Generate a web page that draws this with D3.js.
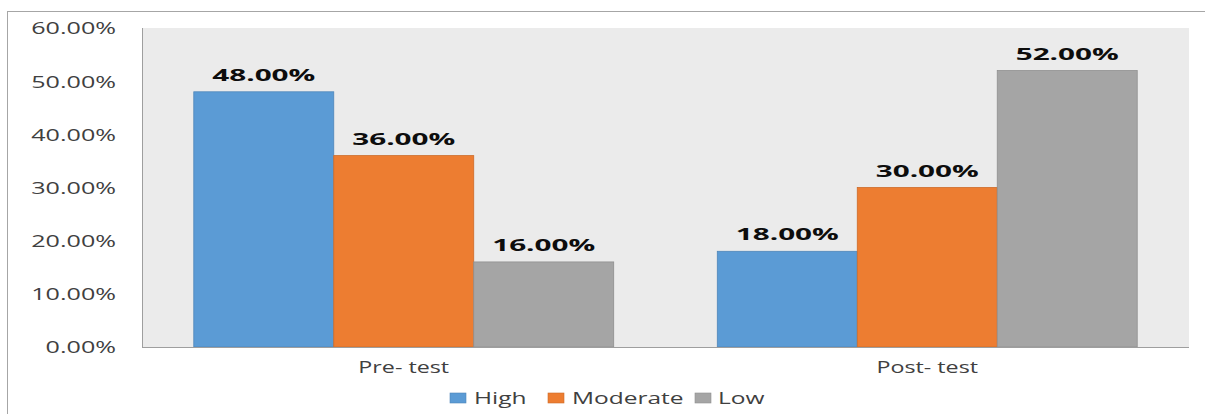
<!DOCTYPE html>
<html>
<head>
<meta charset="utf-8">
<script src="https://cdn.jsdelivr.net/npm/d3@7"></script>
<style>
  html, body { margin: 0; padding: 0; background: #ffffff; }
  svg { display: block; }
  text { font-family: "Open Sans", "Noto Sans", sans-serif; fill: #262626; }
</style>
</head>
<body>
<svg id="chart" width="1205" height="414"></svg>
<script>
// Knowledge level distribution before and after the test
const categories = ["Pre- test", "Post- test"];
const seriesNames = ["High", "Moderate", "Low"];
const seriesColors = ["#5b9bd5", "#ed7d31", "#a5a5a5"];
const high = [48, 18];
const moderate = [36, 30];
const low = [16, 52];
const yTicks = [0, 10, 20, 30, 40, 50, 60];

const seriesValues = [high, moderate, low];

const svg = d3.select("#chart");
const W = 1205, H = 414;

// Outer chart frame
svg.append("rect")
  .attr("x", 7.5).attr("y", 11.5)
  .attr("width", W).attr("height", H)
  .attr("fill", "#ffffff")
  .attr("stroke", "#a6a6a6").attr("stroke-width", 1);

const plot = { left: 142, right: 1189, top: 28, bottom: 347 };

const x0 = d3.scaleBand()
  .domain(categories)
  .range([plot.left, plot.right])
  .paddingInner(0).paddingOuter(0);

const x1 = d3.scaleBand()
  .domain(seriesNames)
  .range([0, x0.bandwidth()])
  .paddingInner(0)
  .paddingOuter(0.37);

const y = d3.scaleLinear().domain([0, 60]).range([plot.bottom, plot.top]);

// Horizontal stretch for text glyphs (wide lettering)
function stretch(sel, sx) {
  sel.each(function () {
    const t = d3.select(this);
    const x = +t.attr("x") || 0;
    const yy = +t.attr("y") || 0;
    t.attr("x", null).attr("y", null)
      .attr("transform", `translate(${x},${yy}) scale(${sx},1)`);
  });
}

// Plot background
svg.append("rect")
  .attr("x", plot.left).attr("y", plot.top)
  .attr("width", plot.right - plot.left)
  .attr("height", plot.bottom - plot.top)
  .attr("fill", "#ebebeb");

// Bars
const groups = svg.append("g").selectAll("g")
  .data(categories)
  .join("g")
  .attr("transform", d => `translate(${x0(d)},0)`);

groups.selectAll("rect")
  .data((c, ci) => seriesNames.map((s, si) => ({ s, si, v: seriesValues[si][ci] })))
  .join("rect")
  .attr("x", d => x1(d.s))
  .attr("y", d => y(d.v))
  .attr("width", x1.bandwidth())
  .attr("height", d => y(0) - y(d.v))
  .attr("fill", (d) => seriesColors[d.si])
  .attr("stroke", d => d3.color(seriesColors[d.si]).darker(0.4))
  .attr("stroke-width", 0.8);

// Value labels
groups.selectAll("text.val")
  .data((c, ci) => seriesNames.map((s, si) => ({ s, si, v: seriesValues[si][ci] })))
  .join("text")
  .attr("class", "val")
  .attr("x", d => x1(d.s) + x1.bandwidth() / 2)
  .attr("y", d => y(d.v) - 11)
  .attr("text-anchor", "middle")
  .style("font-size", "16.5px")
  .style("font-weight", "700")
  .style("fill", "#0d0d0d")
  .text(d => d3.format(".2f")(d.v) + "%")
  .call(stretch, 1.8);

// Axis lines
const axisG = svg.append("g");
axisG.append("line")
  .attr("x1", plot.left + 0.5).attr("x2", plot.left + 0.5)
  .attr("y1", plot.top).attr("y2", plot.bottom)
  .attr("stroke", "#9e9e9e");
axisG.append("line")
  .attr("x1", plot.left).attr("x2", plot.right)
  .attr("y1", plot.bottom + 0.5).attr("y2", plot.bottom + 0.5)
  .attr("stroke", "#9e9e9e");

// Y tick labels
const yAxis = d3.axisLeft(y).tickValues(yTicks).tickSize(0)
  .tickFormat(d => d3.format(".2f")(d) + "%");
const yg = svg.append("g").attr("transform", `translate(${plot.left},0)`).call(yAxis);
yg.select(".domain").remove();
yg.selectAll("text")
  .attr("x", 116 - plot.left)
  .attr("dy", null)
  .attr("dominant-baseline", "central")
  .attr("text-anchor", "end")
  .style("font-size", "15.5px")
  .style("font-family", "'Open Sans', sans-serif")
  .style("fill", "#404040")
  .each(function () {
    const t = d3.select(this);
    const tx = +t.attr("x");
    const ty = +t.attr("y") || 0;
    t.attr("x", null).attr("y", null).attr("transform", `translate(${tx},${ty}) scale(1.62,1)`);
  });

// Category labels
svg.append("g").selectAll("text")
  .data(categories)
  .join("text")
  .attr("x", d => x0(d) + x0.bandwidth() / 2)
  .attr("y", 373)
  .attr("text-anchor", "middle")
  .style("font-size", "15.5px")
  .style("fill", "#404040")
  .text(d => d)
  .call(stretch, 1.5);

// Legend
const legendItems = [
  { name: "High", sq: 450, tx: 474 },
  { name: "Moderate", sq: 548, tx: 572 },
  { name: "Low", sq: 695, tx: 718 }
];
const lg = svg.append("g");
lg.selectAll("rect")
  .data(seriesNames)
  .join("rect")
  .attr("x", (d, i) => legendItems[i].sq)
  .attr("y", 393)
  .attr("width", 16).attr("height", 10)
  .attr("fill", (d, i) => seriesColors[i])
  .attr("stroke", (d, i) => d3.color(seriesColors[i]).darker(0.4))
  .attr("stroke-width", 0.6);
lg.selectAll("text")
  .data(seriesNames)
  .join("text")
  .attr("x", (d, i) => legendItems[i].tx)
  .attr("y", 404)
  .style("font-size", "15.5px")
  .style("fill", "#404040")
  .text(d => d)
  .call(stretch, 1.58);
</script>
</body>
</html>
